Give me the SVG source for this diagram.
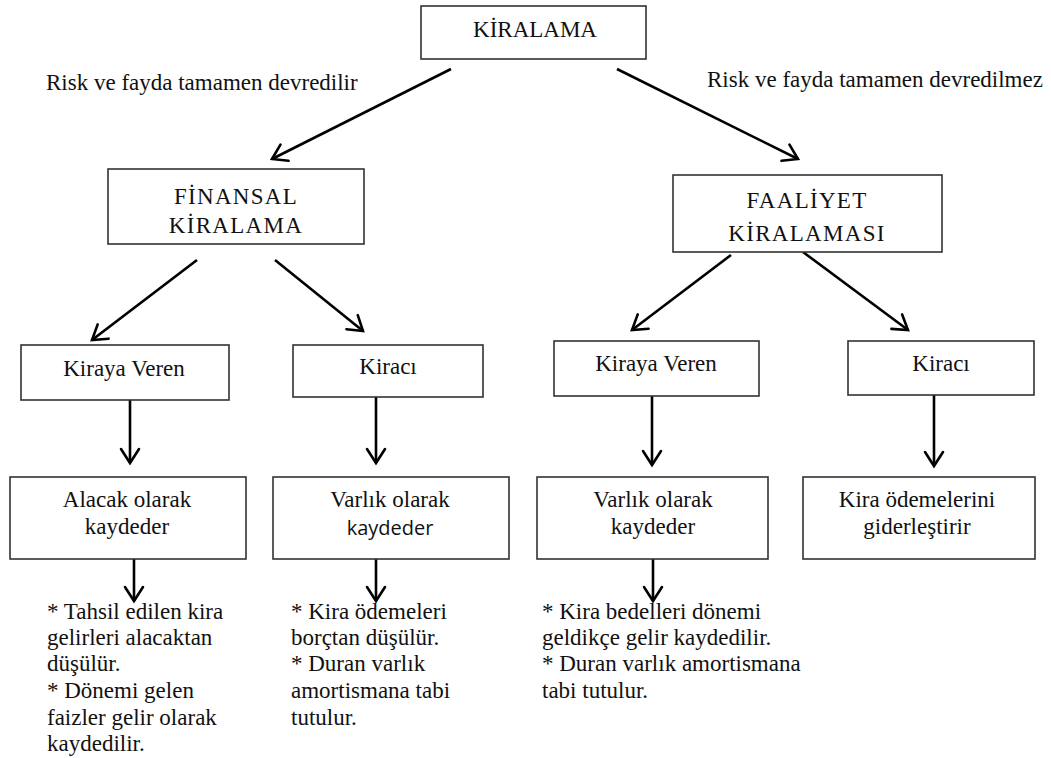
<svg xmlns="http://www.w3.org/2000/svg" width="1051" height="758" viewBox="0 0 1051 758">
<defs>
<style>
.box{fill:#fff;stroke:#333;stroke-width:1.6}
.t{font-family:"Liberation Serif","Times New Roman",serif;font-size:23px;fill:#111}
.c{text-anchor:middle}
.s{font-family:"Open Sans","DejaVu Sans",sans-serif;font-size:20px;fill:#111}
.ls{letter-spacing:1.3px}
.ar{stroke:#000;stroke-width:2.6;fill:none;marker-end:url(#ah)}
</style>
<marker id="ah" markerUnits="userSpaceOnUse" markerWidth="22" markerHeight="22" viewBox="0 0 22 22" refX="17" refY="11" orient="auto">
<path d="M3,2 L17,11 L3,20" fill="none" stroke="#000" stroke-width="2.6" stroke-linecap="round" stroke-linejoin="miter"/>
</marker>
</defs>
<rect width="1051" height="758" fill="#fff"/>

<g id="connectors">
<line class="ar" x1="451" y1="69" x2="272" y2="159"/>
<line class="ar" x1="617" y1="69" x2="798" y2="159"/>
<line class="ar" x1="197" y1="260" x2="92" y2="340"/>
<line class="ar" x1="275" y1="260" x2="363" y2="331"/>
<line class="ar" x1="731" y1="255" x2="632" y2="330"/>
<line class="ar" x1="803" y1="252" x2="908" y2="330"/>
<line class="ar" x1="130" y1="392" x2="130" y2="463"/>
<line class="ar" x1="376" y1="392" x2="376" y2="463"/>
<line class="ar" x1="652" y1="390" x2="652" y2="465"/>
<line class="ar" x1="934" y1="393" x2="934" y2="466"/>
<line class="ar" x1="134" y1="559" x2="134" y2="601"/>
<line class="ar" x1="376" y1="559" x2="376" y2="601"/>
<line class="ar" x1="653" y1="559" x2="653" y2="601"/>
</g>

<g id="label-left"><text class="t" x="46" y="90">Risk ve fayda tamamen devredilir</text></g>
<g id="label-right"><text class="t" x="707" y="87">Risk ve fayda tamamen devredilmez</text></g>

<g id="kiralama">
<rect class="box" x="421" y="6" width="225" height="53"/>
<text class="t c" x="535" y="37">KİRALAMA</text>
</g>

<g id="finansal">
<rect class="box" x="108" y="169" width="256" height="75"/>
<text class="t c ls" x="236" y="204">FİNANSAL</text>
<text class="t c ls" x="236" y="233">KİRALAMA</text>
</g>

<g id="faaliyet">
<rect class="box" x="673" y="175" width="269" height="77"/>
<text class="t c ls" x="807" y="208">FAALİYET</text>
<text class="t c ls" x="807" y="241">KİRALAMASI</text>
</g>

<g id="fin-kirayaveren">
<rect class="box" x="21" y="345" width="208" height="55"/>
<text class="t c" x="124" y="376">Kiraya Veren</text>
</g>
<g id="fin-kiraci">
<rect class="box" x="293" y="345" width="190" height="52"/>
<text class="t c" x="388" y="374">Kiracı</text>
</g>
<g id="faa-kirayaveren">
<rect class="box" x="554" y="341" width="205" height="55"/>
<text class="t c" x="656" y="371">Kiraya Veren</text>
</g>
<g id="faa-kiraci">
<rect class="box" x="848" y="341" width="186" height="54"/>
<text class="t c" x="941" y="371">Kiracı</text>
</g>

<g id="alacak">
<rect class="box" x="10" y="477" width="236" height="82"/>
<text class="t c" x="127" y="507">Alacak olarak</text>
<text class="t c" x="127" y="534">kaydeder</text>
</g>
<g id="fin-varlik">
<rect class="box" x="273" y="477" width="236" height="82"/>
<text class="t c" x="390" y="507">Varlık olarak</text>
<text class="s c" x="390" y="535">kaydeder</text>
</g>
<g id="faa-varlik">
<rect class="box" x="537" y="477" width="231" height="82"/>
<text class="t c" x="653" y="507">Varlık olarak</text>
<text class="t c" x="653" y="534">kaydeder</text>
</g>
<g id="giderlestirir">
<rect class="box" x="803" y="477" width="232" height="82"/>
<text class="t c" x="917" y="507">Kira ödemelerini</text>
<text class="t c" x="917" y="534">giderleştirir</text>
</g>

<g id="note-alacak">
<text class="t" x="47" y="619">* Tahsil edilen kira</text>
<text class="t" x="47" y="645">gelirleri alacaktan</text>
<text class="t" x="47" y="671">düşülür.</text>
<text class="t" x="47" y="698">* Dönemi gelen</text>
<text class="t" x="47" y="725">faizler gelir olarak</text>
<text class="t" x="47" y="751">kaydedilir.</text>
</g>
<g id="note-kiraci">
<text class="t" x="291" y="619">* Kira ödemeleri</text>
<text class="t" x="291" y="645">borçtan düşülür.</text>
<text class="t" x="291" y="671">* Duran varlık</text>
<text class="t" x="291" y="698">amortismana tabi</text>
<text class="t" x="291" y="725">tutulur.</text>
</g>
<g id="note-faaliyet">
<text class="t" x="542" y="619">* Kira bedelleri dönemi</text>
<text class="t" x="542" y="645">geldikçe gelir kaydedilir.</text>
<text class="t" x="542" y="671">* Duran varlık amortismana</text>
<text class="t" x="542" y="698">tabi tutulur.</text>
</g>
</svg>
